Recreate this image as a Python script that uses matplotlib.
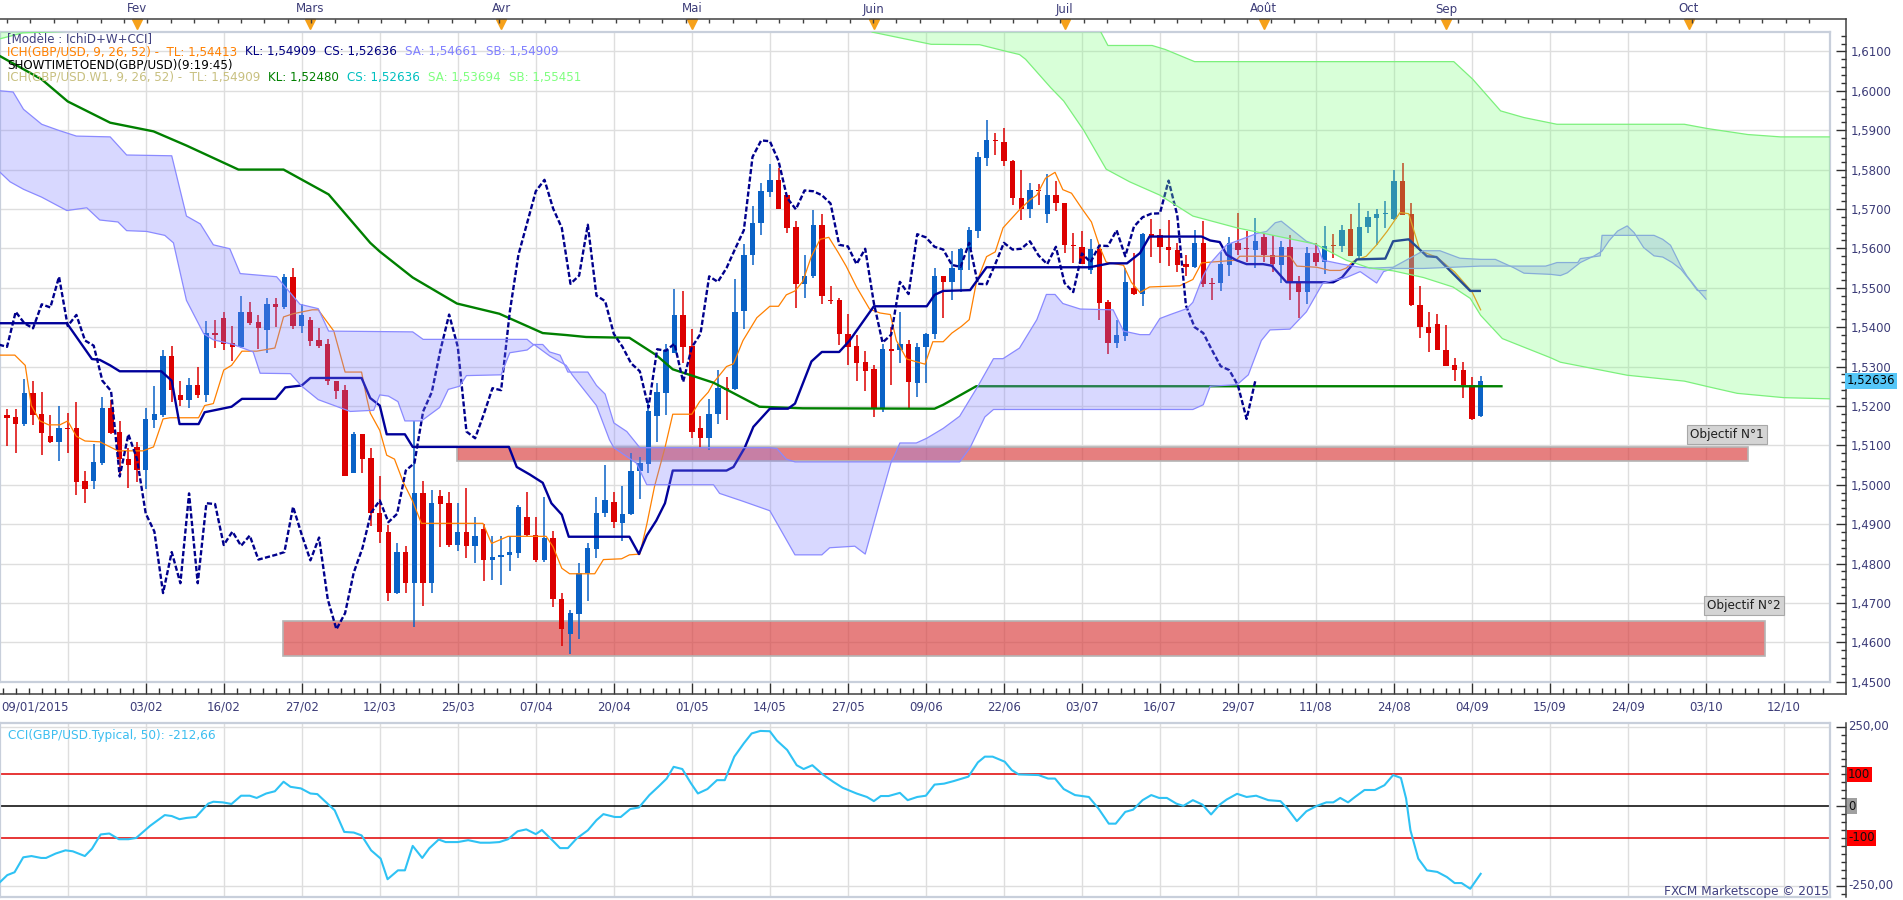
import numpy as np
import matplotlib.pyplot as plt
import matplotlib.transforms as mtransforms
from matplotlib.lines import Line2D
from matplotlib.patches import Rectangle, Polygon
from matplotlib.ticker import FixedLocator, MultipleLocator, FuncFormatter, NullFormatter

W, H = 1903, 900

# GBP/USD daily candles, bar 0 = 09/01/2015 ... bar 171 = 07/09/2015
opens = [1.5084, 1.5177, 1.5171, 1.5154, 1.5232, 1.5179, 1.5123, 1.5109, 1.5145, 1.5143,
         1.5009, 1.5009, 1.5055, 1.5196, 1.5133, 1.5065, 1.5097, 1.5038, 1.5164, 1.5177,
         1.5327, 1.5227, 1.5216, 1.5254, 1.5228, 1.5385, 1.5422, 1.5359, 1.5350, 1.5439,
         1.5413, 1.5393, 1.5458, 1.5451, 1.5528, 1.5403, 1.5417, 1.5368, 1.5356, 1.5264,
         1.5240, 1.5031, 1.5128, 1.5067, 1.4927, 1.4881, 1.4725, 1.4829, 1.4750, 1.4978,
         1.4750, 1.4971, 1.4953, 1.4847, 1.4881, 1.4845, 1.4888, 1.4810, 1.4816, 1.4822,
         1.4827, 1.4917, 1.4873, 1.4808, 1.4866, 1.4709, 1.4621, 1.4672, 1.4776, 1.4837,
         1.4929, 1.4955, 1.4904, 1.4926, 1.5036, 1.5053, 1.5174, 1.5232, 1.5335, 1.5432,
         1.5351, 1.5145, 1.5118, 1.5179, 1.5245, 1.5242, 1.5441, 1.5584, 1.5665, 1.5743,
         1.5774, 1.5735, 1.5654, 1.5510, 1.5529, 1.5660, 1.5469, 1.5468, 1.5383, 1.5351,
         1.5311, 1.5293, 1.5196, 1.5344, 1.5342, 1.5358, 1.5257, 1.5349, 1.5383, 1.5529,
         1.5515, 1.5544, 1.5599, 1.5643, 1.5829, 1.5874, 1.5869, 1.5822, 1.5728, 1.5699,
         1.5748, 1.5688, 1.5735, 1.5714, 1.5609, 1.5604, 1.5544, 1.5599, 1.5463, 1.5361,
         1.5378, 1.5499, 1.5484, 1.5636, 1.5633, 1.5604, 1.5597, 1.5560, 1.5552, 1.5614,
         1.5512, 1.5512, 1.5558, 1.5614, 1.5600, 1.5597, 1.5630, 1.5584, 1.5558, 1.5604,
         1.5512, 1.5489, 1.5587, 1.5565, 1.5609, 1.5606, 1.5648, 1.5580, 1.5655, 1.5677,
         1.5687, 1.5675, 1.5772, 1.5686, 1.5457, 1.5400, 1.5409, 1.5342, 1.5303, 1.5291,
         1.5254, 1.5174]
highs = [1.5170, 1.5191, 1.5191, 1.5269, 1.5264, 1.5235, 1.5177, 1.5199, 1.5182, 1.5211,
         1.5036, 1.5104, 1.5222, 1.5216, 1.5162, 1.5094, 1.5109, 1.5196, 1.5250, 1.5342,
         1.5351, 1.5264, 1.5271, 1.5298, 1.5415, 1.5419, 1.5439, 1.5402, 1.5478, 1.5463,
         1.5432, 1.5473, 1.5473, 1.5536, 1.5550, 1.5458, 1.5427, 1.5397, 1.5371, 1.5264,
         1.5254, 1.5135, 1.5128, 1.5094, 1.5023, 1.4897, 1.4851, 1.4844, 1.5162, 1.5009,
         1.4987, 1.4987, 1.4982, 1.4953, 1.4992, 1.4919, 1.4900, 1.4869, 1.4871, 1.4871,
         1.4949, 1.4981, 1.4919, 1.4970, 1.4883, 1.4725, 1.4682, 1.4801, 1.4851, 1.4968,
         1.5050, 1.4982, 1.4997, 1.5080, 1.5070, 1.5211, 1.5259, 1.5356, 1.5497, 1.5492,
         1.5395, 1.5174, 1.5217, 1.5291, 1.5274, 1.5521, 1.5611, 1.5708, 1.5766, 1.5813,
         1.5805, 1.5735, 1.5669, 1.5584, 1.5698, 1.5688, 1.5505, 1.5473, 1.5434, 1.5381,
         1.5339, 1.5303, 1.5358, 1.5400, 1.5439, 1.5368, 1.5361, 1.5385, 1.5550, 1.5531,
         1.5594, 1.5602, 1.5654, 1.5844, 1.5927, 1.5892, 1.5905, 1.5824, 1.5798, 1.5766,
         1.5764, 1.5788, 1.5772, 1.5714, 1.5638, 1.5643, 1.5625, 1.5604, 1.5468, 1.5419,
         1.5550, 1.5589, 1.5638, 1.5675, 1.5648, 1.5672, 1.5614, 1.5584, 1.5646, 1.5669,
         1.5524, 1.5592, 1.5628, 1.5691, 1.5643, 1.5677, 1.5638, 1.5633, 1.5618, 1.5635,
         1.5531, 1.5604, 1.5614, 1.5657, 1.5636, 1.5660, 1.5686, 1.5716, 1.5694, 1.5700,
         1.5720, 1.5798, 1.5816, 1.5716, 1.5504, 1.5439, 1.5434, 1.5405, 1.5322, 1.5311,
         1.5274, 1.5277]
lows = [1.5080, 1.5099, 1.5080, 1.5148, 1.5152, 1.5075, 1.5105, 1.5060, 1.5080, 1.4973,
        1.4953, 1.4989, 1.5050, 1.5128, 1.5021, 1.4992, 1.5007, 1.4989, 1.5143, 1.5172,
        1.5211, 1.5201, 1.5196, 1.5220, 1.5211, 1.5347, 1.5342, 1.5313, 1.5347, 1.5405,
        1.5344, 1.5335, 1.5400, 1.5447, 1.5395, 1.5385, 1.5351, 1.5347, 1.5252, 1.5218,
        1.5021, 1.5031, 1.5029, 1.4895, 1.4853, 1.4704, 1.4723, 1.4725, 1.4638, 1.4691,
        1.4725, 1.4842, 1.4842, 1.4832, 1.4813, 1.4801, 1.4756, 1.4759, 1.4745, 1.4782,
        1.4813, 1.4871, 1.4805, 1.4805, 1.4689, 1.4591, 1.4570, 1.4609, 1.4704, 1.4815,
        1.4919, 1.4890, 1.4856, 1.4924, 1.4963, 1.5031, 1.5109, 1.5177, 1.5335, 1.5308,
        1.5118, 1.5094, 1.5089, 1.5154, 1.5164, 1.5240, 1.5395, 1.5558, 1.5633, 1.5730,
        1.5699, 1.5640, 1.5449, 1.5473, 1.5526, 1.5460, 1.5460, 1.5354, 1.5303, 1.5264,
        1.5238, 1.5172, 1.5184, 1.5254, 1.5308, 1.5193, 1.5222, 1.5259, 1.5371, 1.5424,
        1.5468, 1.5490, 1.5544, 1.5626, 1.5808, 1.5837, 1.5808, 1.5711, 1.5672, 1.5677,
        1.5711, 1.5664, 1.5696, 1.5589, 1.5562, 1.5560, 1.5536, 1.5417, 1.5332, 1.5347,
        1.5364, 1.5482, 1.5453, 1.5578, 1.5562, 1.5555, 1.5541, 1.5531, 1.5550, 1.5502,
        1.5468, 1.5492, 1.5531, 1.5584, 1.5565, 1.5550, 1.5565, 1.5541, 1.5512, 1.5468,
        1.5424, 1.5458, 1.5555, 1.5536, 1.5575, 1.5591, 1.5580, 1.5570, 1.5638, 1.5609,
        1.5652, 1.5672, 1.5684, 1.5453, 1.5373, 1.5337, 1.5342, 1.5301, 1.5264, 1.5220,
        1.5164, 1.5172]
closes = [1.5157, 1.5169, 1.5154, 1.5232, 1.5177, 1.5131, 1.5109, 1.5143, 1.5141, 1.5007,
          1.4989, 1.5057, 1.5196, 1.5131, 1.5065, 1.5050, 1.5038, 1.5167, 1.5179, 1.5327,
          1.5240, 1.5216, 1.5254, 1.5228, 1.5385, 1.5381, 1.5356, 1.5350, 1.5439, 1.5410,
          1.5397, 1.5458, 1.5450, 1.5528, 1.5403, 1.5431, 1.5366, 1.5353, 1.5264, 1.5238,
          1.5021, 1.5128, 1.5065, 1.4927, 1.4881, 1.4725, 1.4829, 1.4750, 1.4978, 1.4750,
          1.4953, 1.4951, 1.4847, 1.4881, 1.4845, 1.4871, 1.4810, 1.4816, 1.4822, 1.4829,
          1.4944, 1.4873, 1.4808, 1.4866, 1.4709, 1.4633, 1.4674, 1.4777, 1.4839, 1.4929,
          1.4960, 1.4905, 1.4926, 1.5036, 1.5055, 1.5186, 1.5235, 1.5342, 1.5432, 1.5350,
          1.5135, 1.5118, 1.5179, 1.5245, 1.5240, 1.5439, 1.5584, 1.5665, 1.5745, 1.5774,
          1.5701, 1.5652, 1.5510, 1.5531, 1.5660, 1.5480, 1.5466, 1.5383, 1.5350, 1.5308,
          1.5288, 1.5196, 1.5344, 1.5340, 1.5358, 1.5261, 1.5349, 1.5383, 1.5529, 1.5515,
          1.5550, 1.5599, 1.5646, 1.5832, 1.5874, 1.5872, 1.5822, 1.5728, 1.5699, 1.5747,
          1.5745, 1.5735, 1.5714, 1.5609, 1.5605, 1.5560, 1.5599, 1.5461, 1.5361, 1.5381,
          1.5515, 1.5484, 1.5636, 1.5628, 1.5604, 1.5597, 1.5558, 1.5553, 1.5614, 1.5510,
          1.5509, 1.5560, 1.5614, 1.5597, 1.5599, 1.5618, 1.5582, 1.5560, 1.5604, 1.5512,
          1.5489, 1.5587, 1.5565, 1.5607, 1.5606, 1.5646, 1.5580, 1.5655, 1.5679, 1.5688,
          1.5689, 1.5772, 1.5684, 1.5455, 1.5400, 1.5385, 1.5342, 1.5301, 1.5291, 1.5252,
          1.5167, 1.52636]

# Ichimoku lines: (bar, price) vertices
tenkan = [(0.2, 1.5329), (1.9, 1.5329), (3.1, 1.5303), (3.8, 1.5201), (4.8, 1.5162), (5.8, 1.5152),
          (7.1, 1.5152), (8.0, 1.5162), (9.0, 1.5123), (10.0, 1.5111), (11.7, 1.5109), (13.8, 1.5086),
          (16.7, 1.5086), (17.9, 1.5096), (19.0, 1.5167), (19.8, 1.5170), (23.1, 1.5170), (23.8, 1.5201),
          (24.8, 1.5206), (26.0, 1.5291), (26.9, 1.5303), (28.1, 1.5339), (29.8, 1.5339), (31.9, 1.5347),
          (32.9, 1.5426), (34.0, 1.5434), (36.2, 1.5444), (36.9, 1.5444), (38.7, 1.5390), (40.0, 1.5286),
          (41.9, 1.5286), (42.5, 1.5220), (42.9, 1.5182), (44.0, 1.5138), (44.8, 1.5075), (45.7, 1.5065),
          (46.7, 1.5007), (47.8, 1.4958), (48.8, 1.4902), (55.9, 1.4902), (56.9, 1.4851), (58.8, 1.4869),
          (63.2, 1.4869), (64.0, 1.4842), (65.0, 1.4788), (65.9, 1.4774), (68.8, 1.4774), (69.8, 1.4810),
          (71.9, 1.4812), (72.8, 1.4822), (74.0, 1.4824), (74.8, 1.4899), (75.7, 1.4996), (76.9, 1.5094),
          (77.8, 1.5179), (80.0, 1.5179), (80.9, 1.5211), (81.9, 1.5235), (82.5, 1.5259), (84.0, 1.5300),
          (84.8, 1.5307), (85.9, 1.5366), (87.5, 1.5424), (89.0, 1.5453), (90.0, 1.5453), (90.9, 1.5482),
          (91.9, 1.5492), (92.8, 1.5516), (93.8, 1.5580), (94.8, 1.5623), (95.8, 1.5628), (96.9, 1.5589),
          (97.8, 1.5555), (99.0, 1.5502), (100.5, 1.5446), (101.7, 1.5436), (102.9, 1.5432), (103.6, 1.5366),
          (104.8, 1.5319), (106.9, 1.5306), (107.8, 1.5363), (109.0, 1.5363), (110.0, 1.5385), (111.1, 1.5402),
          (112.0, 1.5419), (112.8, 1.5511), (114.0, 1.5579), (115.0, 1.5591), (115.9, 1.5652), (116.9, 1.5676),
          (117.8, 1.5698), (119.0, 1.5723), (119.8, 1.5735), (120.8, 1.5778), (121.9, 1.5793), (122.8, 1.5749),
          (123.8, 1.5740), (125.0, 1.5701), (126.1, 1.5667), (127.1, 1.5601), (127.8, 1.5565), (129.8, 1.5557),
          (130.7, 1.5514), (131.7, 1.5488), (132.8, 1.5502), (136.3, 1.5505), (137.8, 1.5521), (138.8, 1.5563),
          (139.8, 1.5565), (142.8, 1.5570), (143.2, 1.5580), (149.0, 1.5580), (149.8, 1.5555), (152.1, 1.5552),
          (153.6, 1.5544), (154.8, 1.5544), (155.5, 1.5550), (156.3, 1.5567), (157.8, 1.5580), (159.0, 1.5609),
          (160.2, 1.5643), (161.7, 1.5691), (162.7, 1.5688), (164.0, 1.5594), (166.0, 1.5577), (168.0, 1.5540),
          (170.0, 1.5490), (171.0, 1.5444)]
kijun = [(0.2, 1.5410), (7.9, 1.5410), (10.8, 1.5319), (11.7, 1.5317), (12.9, 1.5303), (14.0, 1.5288),
         (18.8, 1.5288), (20.0, 1.5264), (20.9, 1.5154), (23.1, 1.5154), (23.8, 1.5184), (26.9, 1.5198),
         (28.1, 1.5218), (32.0, 1.5218), (33.1, 1.5247), (35.0, 1.5252), (36.0, 1.5271), (41.9, 1.5271),
         (42.9, 1.5220), (44.0, 1.5201), (44.8, 1.5128), (46.9, 1.5128), (47.8, 1.5096), (58.9, 1.5096),
         (59.8, 1.5045), (61.3, 1.5026), (62.8, 1.5005), (63.8, 1.4953), (65.0, 1.4924), (65.8, 1.4868),
         (72.8, 1.4868), (73.9, 1.4824), (74.8, 1.4871), (75.9, 1.4909), (76.9, 1.4953), (77.8, 1.5036),
         (84.0, 1.5036), (84.8, 1.5045), (86.1, 1.5094), (87.1, 1.5147), (89.0, 1.5193), (91.1, 1.5193),
         (91.9, 1.5206), (93.8, 1.5313), (95.0, 1.5337), (97.0, 1.5337), (98.2, 1.5366), (101.0, 1.5453),
         (107.1, 1.5453), (108.0, 1.5482), (109.0, 1.5492), (112.1, 1.5494), (114.0, 1.5552), (125.9, 1.5552),
         (128.2, 1.5562), (130.2, 1.5562), (131.7, 1.5588), (132.8, 1.5630), (138.8, 1.5630), (139.8, 1.5620),
         (140.9, 1.5616), (141.7, 1.5584), (142.8, 1.5570), (144.0, 1.5560), (145.9, 1.5560), (146.9, 1.5556),
         (148.6, 1.5514), (154.0, 1.5514), (155.0, 1.5526), (156.7, 1.5572), (160.0, 1.5574), (160.9, 1.5618),
         (162.7, 1.5623), (164.8, 1.5580), (165.9, 1.5578), (169.8, 1.5492), (170.9, 1.5492)]
# daily cloud, upper and lower edges (future part runs to bar 197)
cloud_top = [(0.2, 1.6000), (1.7, 1.5997), (2.9, 1.5953), (5.0, 1.5915), (6.9, 1.5900), (9.0, 1.5885),
             (12.9, 1.5883), (14.8, 1.5837), (20.0, 1.5835), (21.7, 1.5682), (23.3, 1.5662), (24.8, 1.5609),
             (26.7, 1.5599), (27.9, 1.5536), (32.1, 1.5528), (34.8, 1.5458), (36.9, 1.5447), (38.1, 1.5390),
             (47.8, 1.5388), (49.0, 1.5369), (61.0, 1.5369), (61.7, 1.5356), (62.8, 1.5356), (63.6, 1.5337),
             (64.8, 1.5329), (65.7, 1.5286), (68.0, 1.5286), (69.0, 1.5252), (70.0, 1.5230), (71.0, 1.5157),
             (72.5, 1.5135), (74.0, 1.5094), (89.0, 1.5094), (89.8, 1.5092), (90.9, 1.5065), (91.9, 1.5058),
             (103.0, 1.5058), (103.4, 1.5075), (104.0, 1.5106), (105.9, 1.5106), (107.1, 1.5118), (109.0, 1.5143),
             (110.9, 1.5174), (113.0, 1.5250), (114.8, 1.5320), (115.9, 1.5320), (117.8, 1.5347), (119.8, 1.5419),
             (120.9, 1.5483), (121.9, 1.5483), (122.8, 1.5460), (124.8, 1.5446), (128.6, 1.5444), (129.8, 1.5390),
             (131.7, 1.5381), (132.8, 1.5381), (134.0, 1.5422), (135.2, 1.5432), (137.1, 1.5447), (137.8, 1.5463),
             (139.0, 1.5531), (139.8, 1.5562), (141.7, 1.5609), (145.2, 1.5638), (146.3, 1.5643), (147.3, 1.5665),
             (148.0, 1.5669), (150.9, 1.5618), (152.1, 1.5609), (152.8, 1.5570), (155.0, 1.5560), (157.1, 1.5552),
             (158.6, 1.5550), (160.9, 1.5552), (164.4, 1.5594), (166.3, 1.5594), (168.6, 1.5575), (171.0, 1.5572),
             (172.7, 1.5572), (174.8, 1.5551), (176.0, 1.5537), (179.1, 1.5534), (180.2, 1.5531), (181.0, 1.5538),
             (182.5, 1.5564), (184.1, 1.5581), (185.0, 1.5593), (185.8, 1.5619), (186.8, 1.5644), (187.9, 1.5657),
             (188.7, 1.5640), (189.8, 1.5602), (191.0, 1.5581), (192.0, 1.5578), (193.1, 1.5564), (194.1, 1.5547),
             (195.2, 1.5517), (196.0, 1.5493), (197.0, 1.5493)]
cloud_bot = [(0.2, 1.5793), (1.35, 1.5769), (2.9, 1.5750), (5.0, 1.5730), (7.9, 1.5696), (10.2, 1.5703),
             (11.7, 1.5672), (13.8, 1.5667), (14.8, 1.5645), (17.1, 1.5643), (19.2, 1.5633), (20.2, 1.5614),
             (21.7, 1.5468), (23.7, 1.5383), (24.8, 1.5368), (27.1, 1.5356), (29.4, 1.5337), (30.2, 1.5283),
             (33.7, 1.5282), (35.0, 1.5250), (36.9, 1.5216), (40.6, 1.5186), (43.3, 1.5189), (44.0, 1.5228),
             (45.0, 1.5225), (46.1, 1.5211), (46.9, 1.5162), (48.8, 1.5162), (50.9, 1.5196), (51.9, 1.5242),
             (53.2, 1.5250), (54.0, 1.5277), (58.0, 1.5279), (59.0, 1.5335), (61.0, 1.5342), (61.8, 1.5356),
             (63.6, 1.5327), (65.5, 1.5303), (66.2, 1.5279), (69.0, 1.5201), (70.5, 1.5114), (71.0, 1.5094),
             (73.6, 1.5055), (74.8, 1.5000), (82.5, 1.5000), (83.2, 1.4978), (85.9, 1.4958), (89.0, 1.4934),
             (91.9, 1.4822), (95.0, 1.4822), (95.9, 1.4840), (98.8, 1.4844), (100.0, 1.4824), (101.7, 1.4958),
             (103.0, 1.5058), (110.9, 1.5058), (112.1, 1.5094), (113.8, 1.5172), (114.8, 1.5191), (137.8, 1.5191),
             (139.0, 1.5203), (139.8, 1.5250), (142.9, 1.5254), (144.2, 1.5279), (145.7, 1.5366), (146.7, 1.5393),
             (149.0, 1.5395), (150.9, 1.5439), (152.8, 1.5512), (155.5, 1.5526), (157.1, 1.5541), (159.0, 1.5512),
             (159.8, 1.5541), (160.9, 1.5549), (164.4, 1.5549), (171.0, 1.5555), (178.5, 1.5555), (179.1, 1.5559),
             (179.8, 1.5564), (182.2, 1.5564), (182.5, 1.5574), (184.8, 1.5581), (185.0, 1.5633), (191.0, 1.5633),
             (192.0, 1.5623), (192.9, 1.5608), (194.1, 1.5555), (194.8, 1.5530), (196.0, 1.5496), (197.0, 1.5471)]

# weekly Ichimoku (W1)
wk_kijun = [(0.19, 1.6088), (5.0, 1.6029), (8.0, 1.5973), (12.9, 1.5919), (17.9, 1.5897), (21.7, 1.5861),
            (27.7, 1.5800), (32.9, 1.5800), (38.1, 1.5737), (42.9, 1.5614), (44.0, 1.5592), (47.8, 1.5526),
            (52.9, 1.5460), (57.8, 1.5434), (62.8, 1.5385), (65.5, 1.5380), (67.8, 1.5375), (72.8, 1.5373),
            (75.9, 1.5329), (77.8, 1.5293), (82.5, 1.5259), (87.8, 1.5198), (92.8, 1.5194), (108.0, 1.5193),
            (109.0, 1.5203), (112.8, 1.5250), (173.4, 1.5250)]
wk_cloud_low = [(100.8, 1.6149), (107.6, 1.6118), (113.2, 1.6117), (116.1, 1.6101), (117.8, 1.6092),
                (118.5, 1.6080), (121.4, 1.6008), (122.9, 1.5974), (125.2, 1.5900), (127.8, 1.5801),
                (130.5, 1.5769), (134.0, 1.5735), (137.8, 1.5682), (142.9, 1.5652), (151.9, 1.5611),
                (155.5, 1.5570), (158.2, 1.5550), (160.9, 1.5543), (164.4, 1.5526), (167.8, 1.5502),
                (169.8, 1.5473), (171.0, 1.5430), (173.5, 1.5371), (179.1, 1.5322), (180.2, 1.5311),
                (187.9, 1.5278), (194.5, 1.5263), (197.2, 1.5249), (200.6, 1.5232), (206.0, 1.5221),
                (211.4, 1.5218)]
wk_cloud_high = [(100.8, 1.6165), (126.8, 1.6165), (128.0, 1.6115), (133.1, 1.6115), (134.6, 1.6105),
                 (138.0, 1.6074), (167.9, 1.6074), (170.1, 1.6029), (173.3, 1.5949), (176.0, 1.5932),
                 (179.8, 1.5915), (194.5, 1.5915), (197.2, 1.5904), (201.8, 1.5889), (205.6, 1.5883),
                 (211.4, 1.5883)]
wk_cloud_corner = [(0.19, 1.6132), (2.8, 1.6147), (8.1, 1.6151)]

# CCI(50) of typical price
cci_pts = [(0.19, -239), (1.03, -217), (1.87, -208), (2.87, -161), (3.82, -157), (4.94, -163), (5.5, -163),
           (6.62, -149), (7.74, -139), (8.58, -142), (9.98, -157), (10.8, -134), (11.8, -89), (12.8, -86),
           (13.9, -104), (15.0, -104), (15.9, -100), (17.5, -62), (19.2, -28), (20.0, -31), (20.9, -41),
           (21.7, -37), (22.8, -34), (24.2, 8), (24.8, 14), (25.9, 12), (26.9, 7), (28.0, 33), (29.0, 33),
           (29.8, 26), (30.9, 40), (31.9, 47), (32.9, 77), (33.7, 61), (34.9, 56), (36.0, 40), (36.8, 38),
           (38.8, -13), (39.9, -81), (41.0, -83), (41.9, -92), (43.0, -139), (44.1, -165), (44.9, -230),
           (46.1, -202), (46.9, -202), (47.8, -125), (48.9, -163), (49.7, -133), (50.8, -105), (51.6, -113),
           (53.0, -113), (54.2, -107), (55.6, -115), (56.7, -115), (57.8, -113), (58.8, -104), (59.9, -79),
           (60.9, -73), (62.0, -88), (62.7, -75), (63.9, -107), (64.8, -132), (65.7, -132), (66.7, -102),
           (68.0, -76), (69.0, -44), (69.8, -25), (71.1, -34), (71.8, -34), (72.9, -9), (73.9, -4), (75.1, 35),
           (76.2, 63), (77.1, 87), (77.9, 124), (78.9, 117), (79.9, 72), (80.7, 40), (81.8, 54), (82.9, 82),
           (83.8, 82), (84.9, 156), (86.0, 198), (86.9, 229), (87.9, 237), (89.0, 236), (89.8, 207),
           (91.0, 177), (92.1, 129), (92.9, 117), (93.9, 129), (95.1, 100), (96.3, 77), (97.4, 58), (99.0, 40),
           (100.2, 29), (101.0, 16), (101.8, 32), (102.7, 32), (104.0, 42), (104.9, 19), (106.0, 29),
           (107.0, 33), (108.0, 68), (109.1, 71), (110.2, 79), (111.9, 93), (113.0, 138), (113.8, 156),
           (114.7, 156), (116.1, 140), (116.9, 114), (117.7, 100), (120.0, 98), (121.1, 87), (121.9, 87),
           (122.9, 54), (124.2, 35), (125.8, 29), (126.9, -7), (128.1, -55), (128.9, -55), (130.0, -18),
           (130.9, -11), (132.0, 19), (133.0, 35), (133.9, 26), (134.8, 26), (135.9, 8), (136.7, 1),
           (137.8, 19), (138.9, 5), (139.9, -26), (140.9, 5), (141.7, 21), (142.9, 39), (144.0, 29),
           (145.1, 33), (146.5, 19), (147.9, 16), (148.7, -7), (149.8, -47), (150.9, -16), (152.1, 1),
           (153.2, 12), (154.0, 12), (154.8, 26), (155.7, 12), (156.5, 29), (157.6, 51), (158.8, 51),
           (159.9, 66), (160.9, 98), (161.8, 89), (162.4, 24), (162.9, -76), (163.8, -165), (164.8, -202),
           (166.0, -207), (167.1, -223), (168.0, -242), (168.8, -242), (169.8, -260), (171.0, -213)]

date_labels = ['03/02', '16/02', '27/02', '12/03', '25/03', '07/04', '20/04', '01/05', '14/05', '27/05',
               '09/06', '22/06', '03/07', '16/07', '29/07', '11/08', '24/08', '04/09', '15/09', '24/09',
               '03/10', '12/10']
date_bars = [17 + 9 * i for i in range(len(date_labels))]
months = ['Fev', 'Mars', 'Avr', 'Mai', 'Juin', 'Juil', 'Août', 'Sep', 'Oct']
month_bars = [16, 36, 58, 80, 101, 123, 146, 167, 195]

# target zones: (left bar, right bar, low, high)
obj1 = (52.9, 201.8, 1.5059, 1.5095)
obj2 = (32.8, 203.8, 1.4566, 1.4653)

XLIM = (0.19, 211.3)
YLIM = (1.4500, 1.6150)
CCI_LIM = (-285, 261)
AXC = '#3c3c78'


def fx(px):
    return px / W


def fy(py):
    return 1 - py / H


def xy(pts):
    a = np.array(pts, dtype=float)
    return a[:, 0], a[:, 1]


plt.rcParams['font.family'] = ['DejaVu Sans']
fig = plt.figure(figsize=(W / 100, H / 100), dpi=100)
fig.patch.set_facecolor('white')

ax = fig.add_axes([0, fy(681.7), fx(1830), (681.7 - 31.7) / H])
cax = fig.add_axes([0, fy(896.7), fx(1830), (896.7 - 723.3) / H])

for a in (ax, cax):
    a.set_xlim(*XLIM)
    a.set_xticks(np.arange(8, 212, 9))
    a.tick_params(length=0, labelbottom=False, labelleft=False)
    a.grid(True, color='#dedede', lw=1.0, zorder=0)
    a.set_axisbelow(True)
    for s in a.spines.values():
        s.set_color('#c8cfdb')
        s.set_linewidth(1.6)

ax.set_ylim(*YLIM)
ax.set_yticks(np.arange(1.46, 1.6151, 0.01))
cax.set_ylim(*CCI_LIM)
cax.set_yticks([-250, 250])

# ---- target zones
for (x0, x1, lo, hi) in (obj1, obj2):
    ax.add_patch(Rectangle((x0, lo), x1 - x0, hi - lo, facecolor=(0.85, 0.23, 0.23, 0.65),
                           edgecolor='#b4b4b4', lw=1.2, zorder=1))
for obj, name, dy in ((obj1, 'Objectif N°1', 0.0016), (obj2, 'Objectif N°2', 0.0024)):
    ax.text(obj[1] - 2.4, obj[3] + dy, name, ha='center', va='bottom', fontsize=8.7, color='#202020',
            bbox=dict(boxstyle='square,pad=0.25', facecolor='#d4d4d4', edgecolor='#a8a8a8', lw=0.8), zorder=8)

# ---- candles
o = np.array(opens)
h = np.array(highs)
l = np.array(lows)
c = np.array(closes)
bars = np.arange(len(c))
up = c >= o
col = np.where(up, '#0a62c6', '#dc0000')
ax.vlines(bars, l, h, colors=col, lw=1.1, zorder=2)
ax.bar(bars, np.maximum(np.abs(c - o), 0.00014), bottom=np.minimum(o, c), width=0.62,
       color=col, linewidth=0, zorder=2.1)

# ---- Ichimoku lines
x, y = xy(tenkan)
ax.plot(x, y, color='#ff8000', lw=0.9, zorder=3)
x, y = xy(kijun)
ax.plot(x, y, color='#00009a', lw=1.7, zorder=3.1)
chikou_x = bars[:len(c) - 26]
ax.plot(chikou_x, c[26:], color='#00008c', lw=1.7, ls=(0, (2.2, 1.0)), zorder=3.2)
x, y = xy(wk_kijun)
ax.plot(x, y, color='#008000', lw=1.7, zorder=3)

# daily cloud
tx, ty = xy(cloud_top)
bx, by = xy(cloud_bot)
ax.add_patch(Polygon(np.column_stack([np.r_[tx, bx[::-1]], np.r_[ty, by[::-1]]]),
                     closed=True, facecolor='#8080ff', alpha=0.3, edgecolor='none', zorder=4))
ax.plot(tx, ty, color='#8a8aff', lw=0.9, zorder=4.1)
ax.plot(bx, by, color='#8a8aff', lw=0.9, zorder=4.1)

# weekly cloud
lx, ly = xy(wk_cloud_low)
hx, hy = xy(wk_cloud_high)
ax.add_patch(Polygon(np.column_stack([np.r_[lx, hx[::-1]], np.r_[ly, hy[::-1]]]),
                     closed=True, facecolor='#80ff80', alpha=0.3, edgecolor='none', zorder=4.5))
ax.plot(lx, ly, color='#7cf07c', lw=0.9, zorder=4.6)
ax.plot(hx, hy, color='#7cf07c', lw=0.9, zorder=4.6)
kx, ky = xy(wk_cloud_corner)
ax.fill_between(kx, ky, 1.6165, color='#80ff80', alpha=0.3, lw=0, zorder=4.5)
ax.plot(kx, ky, color='#7cf07c', lw=0.9, zorder=4.6)

# ---- CCI panel
cx, cv = xy(cci_pts)
cax.axhline(100, color='#e00000', lw=1.1, zorder=2)
cax.axhline(-100, color='#e00000', lw=1.1, zorder=2)
cax.axhline(0, color='#000000', lw=1.1, zorder=2)
cax.plot(cx, cv, color='#2ec2f4', lw=1.5, zorder=3)
cax.text(0.0045, 0.93, 'CCI(GBP/USD.Typical, 50): -212,66', transform=cax.transAxes,
         fontsize=8.7, color='#3cbef0', ha='left', va='center')
fig.text(fx(1829), fy(891), 'FXCM Marketscope © 2015', fontsize=8.7, color='#404080', ha='right', va='center')

# ---- right price axis
pax = fig.add_axes([fx(1846), fy(681.7), 1e-5, (681.7 - 31.7) / H])
pax.set_ylim(*YLIM)
pax.set_xticks([])
for s in pax.spines.values():
    s.set_visible(False)
pax.yaxis.tick_right()
pax.yaxis.set_major_locator(MultipleLocator(0.01))
pax.yaxis.set_minor_locator(MultipleLocator(0.002))
pax.yaxis.set_major_formatter(FuncFormatter(lambda v, p: f'{v:.4f}'.replace('.', ',')))
pax.tick_params(axis='y', which='major', direction='in', length=7, width=1, color='#303030',
                labelsize=8.5, labelcolor=AXC, pad=3)
pax.tick_params(axis='y', which='minor', direction='in', length=3.5, width=1, color='#303030')
pax.patch.set_visible(False)

blend_p = mtransforms.blended_transform_factory(fig.transFigure, ax.transData)
fig.text(fx(1847), closes[-1], f'{closes[-1]:.5f}'.replace('.', ','), transform=blend_p, fontsize=8.5,
         color='#000000', ha='left', va='center',
         bbox=dict(boxstyle='square,pad=0.15', facecolor='#55c6f7', edgecolor='none'), zorder=10)

# ---- right CCI axis
cpax = fig.add_axes([fx(1846), fy(896.7), 1e-5, (896.7 - 723.3) / H])
cpax.set_ylim(*CCI_LIM)
cpax.set_xticks([])
for s in cpax.spines.values():
    s.set_visible(False)
cpax.yaxis.tick_right()
cpax.yaxis.set_major_locator(FixedLocator([-250, 0, 250]))
cpax.yaxis.set_minor_locator(MultipleLocator(25))
cpax.yaxis.set_major_formatter(NullFormatter())
cpax.tick_params(axis='y', which='major', direction='in', length=7, width=1, color='#303030')
cpax.tick_params(axis='y', which='minor', direction='in', length=3.5, width=1, color='#303030')
cpax.patch.set_visible(False)
blend_c = mtransforms.blended_transform_factory(fig.transFigure, cax.transData)
for val, txt, fc in ((250, '250,00', None), (-250, '-250,00', None), (100, '100', '#ff0000'),
                     (0, '0', '#a0a0a0'), (-100, '-100', '#ff0000')):
    kw = {}
    if fc:
        kw['bbox'] = dict(boxstyle='square,pad=0.12', facecolor=fc, edgecolor='none')
    fig.text(fx(1848), val, txt, transform=blend_c, fontsize=8.5, ha='left', va='center',
             color=AXC if fc is None else '#101010', **kw)

# ---- bottom date axis
dax = fig.add_axes([0, fy(694), fx(1830), 1e-5])
dax.set_xlim(*XLIM)
dax.set_yticks([])
for s in dax.spines.values():
    s.set_visible(False)
dax.patch.set_visible(False)
dax.set_xticks(date_bars)
dax.set_xticklabels(date_labels)
dax.xaxis.set_minor_locator(FixedLocator(np.arange(0.5, 211.3, 1.5)))
dax.tick_params(axis='x', which='major', direction='in', length=8, width=1, color='#303030',
                labelsize=8.5, labelcolor=AXC, pad=5)
dax.tick_params(axis='x', which='minor', direction='in', length=4, width=1, color='#303030')
fig.text(fx(1), fy(707), '09/01/2015', fontsize=8.5, color=AXC, ha='left', va='center')

# ---- top month axis
tax = fig.add_axes([0, fy(19), fx(1830), 1e-5])
tax.set_xlim(*XLIM)
tax.set_yticks([])
for s in tax.spines.values():
    s.set_visible(False)
tax.patch.set_visible(False)
tax.xaxis.set_major_locator(FixedLocator(np.arange(1.0, 211.3, 2.7)))
tax.tick_params(axis='x', which='major', direction='out', length=3, width=1, color='#404040',
                labelbottom=False)
blend_t = mtransforms.blended_transform_factory(ax.transData, fig.transFigure)
ax.plot(month_bars, [fy(24)] * len(month_bars), transform=blend_t, ls='none', marker='v', ms=7.5,
        color='#f6a11a', clip_on=False, zorder=10)
for mb, mn in zip(month_bars, months):
    ax.text(mb, fy(9), mn, transform=blend_t, ha='center', va='center', fontsize=8.5, color=AXC, clip_on=False)

# frame lines of the axes
for (x0, y0, x1, y1) in ((0, 19, 1846, 19), (1846, 19, 1846, 694), (0, 694, 1846, 694), (1846, 723, 1846, 897)):
    fig.add_artist(Line2D([fx(x0), fx(x1)], [fy(y0), fy(y1)], color='#404040', lw=1.1))

# ---- indicator legends
renderer = fig.canvas.get_renderer()


def seg_text(x0, ypix, parts):
    xp = x0
    for s, colr in parts:
        t = fig.text(fx(xp), fy(ypix), s, color=colr, fontsize=8.6, ha='left', va='center', zorder=20)
        bb = t.get_window_extent(renderer=renderer)
        xp = bb.x1 + 8


seg_text(7, 39, [('[Modèle : IchiD+W+CCI]', '#404080')])
seg_text(7, 52, [('ICH(GBP/USD, 9, 26, 52) -  TL: 1,54413', '#ff8000'), ('KL: 1,54909', '#000080'),
                 ('CS: 1,52636', '#000080'), ('SA: 1,54661', '#8080ff'), ('SB: 1,54909', '#8080ff')])
seg_text(7, 64.5, [('SHOWTIMETOEND(GBP/USD)(9:19:45)', '#000000')])
seg_text(7, 77, [('ICH(GBP/USD.W1, 9, 26, 52) -  TL: 1,54909', '#c8c080'), ('KL: 1,52480', '#008000'),
                 ('CS: 1,52636', '#00c0c0'), ('SA: 1,53694', '#80ff80'), ('SB: 1,55451', '#80ff80')])

fig.savefig('out.png', dpi=100)
